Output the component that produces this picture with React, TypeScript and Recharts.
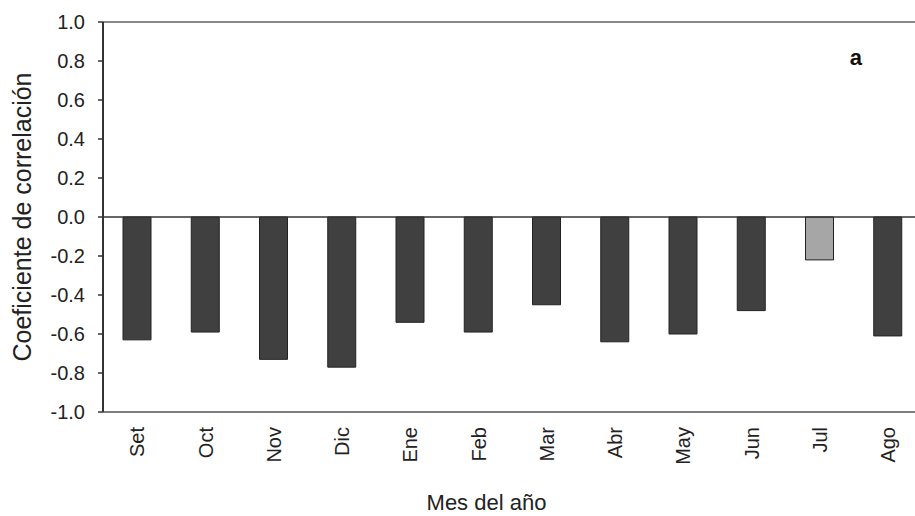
import React from 'react';
import { BarChart, Bar, XAxis, YAxis, ReferenceLine, Cell } from 'recharts';

const months = ['Set', 'Oct', 'Nov', 'Dic', 'Ene', 'Feb', 'Mar', 'Abr', 'May', 'Jun', 'Jul', 'Ago'];
const correlation = [-0.63, -0.59, -0.73, -0.77, -0.54, -0.59, -0.45, -0.64, -0.6, -0.48, -0.22, -0.61];
const significant = [true, true, true, true, true, true, true, true, true, true, false, true];
const yTicks = [-1.0, -0.8, -0.6, -0.4, -0.2, 0.0, 0.2, 0.4, 0.6, 0.8, 1.0];

const data = months.map((m, i) => ({ month: m, value: correlation[i], sig: significant[i] }));

const FONT = '"Liberation Sans", Arial, sans-serif';

const XTick = (props: any) => {
  const { x, y, payload } = props;
  return (
    <text
      transform={`translate(${x},${y}) rotate(-90)`}
      textAnchor="end"
      dy="0.36em"
      fontFamily={FONT}
      fontSize={20}
      fill="#222"
    >
      {payload.value}
    </text>
  );
};

export default function App() {
  return (
    <div style={{ position: 'fixed', left: 0, top: 0, width: 915, height: 516, overflow: 'hidden', background: '#fff' }}>
      <BarChart
        width={935}
        height={516}
        data={data}
        margin={{ top: 22, right: 13, left: 0, bottom: 0 }}
        style={{ fontFamily: FONT }}
      >
        <XAxis
          dataKey="month"
          height={104}
          tick={<XTick />}
          tickLine={false}
          tickSize={0}
          tickMargin={15}
          axisLine={{ stroke: '#555', strokeWidth: 1.5 }}
          interval={0}
          label={{ value: 'Mes del año', position: 'insideBottom', offset: 6, dx: -26, fontSize: 22, fill: '#222', fontFamily: FONT }}
        />
        <YAxis
          width={103}
          domain={[-1, 1]}
          ticks={yTicks}
          interval={0}
          tickFormatter={(v: number) => v.toFixed(1)}
          tick={{ fontSize: 20, fill: '#222', fontFamily: FONT }}
          tickSize={5}
          tickMargin={13}
          tickLine={{ stroke: '#333', strokeWidth: 1.5 }}
          axisLine={{ stroke: '#333', strokeWidth: 2 }}
          label={{ value: 'Coeficiente de correlación', angle: -90, position: 'insideLeft', offset: 22, style: { textAnchor: 'middle' }, fontSize: 25, fill: '#222', fontFamily: FONT }}
        />
        <ReferenceLine y={1} stroke="#888" strokeWidth={2} />
        <ReferenceLine
          y={0.82}
          stroke="none"
          label={{ value: 'a', position: 'insideRight', offset: 60, fontSize: 22, fontWeight: 'bold', fill: '#111', fontFamily: FONT }}
        />
        <Bar dataKey="value" barSize={28} stroke="#222" strokeWidth={1} isAnimationActive={false}>
          {data.map((d, i) => (
            <Cell key={i} fill={d.sig ? '#404040' : '#a6a6a6'} />
          ))}
        </Bar>
        <ReferenceLine y={0} stroke="#333" strokeWidth={1.5} />
      </BarChart>
    </div>
  );
}
